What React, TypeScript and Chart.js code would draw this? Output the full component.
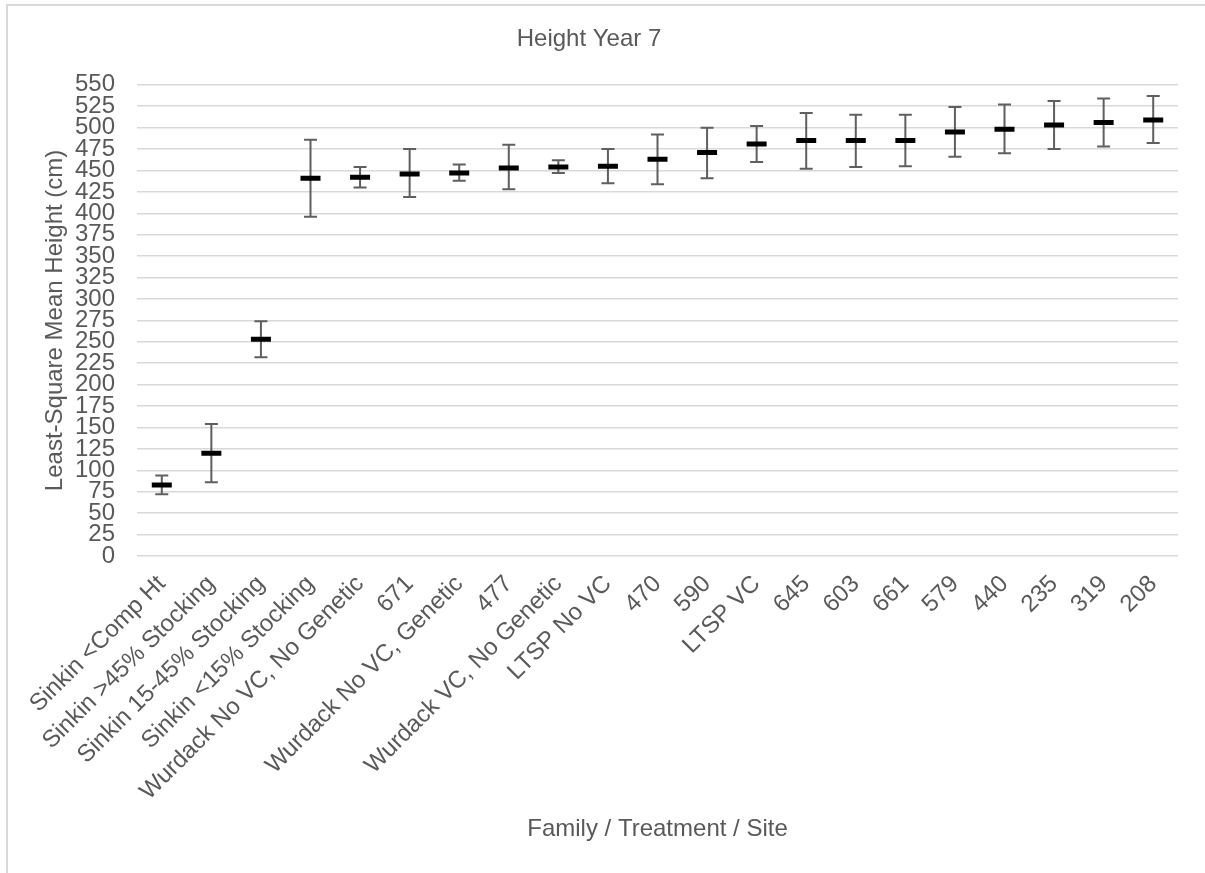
import React, { useEffect, useRef } from "react";
import { Chart, registerables } from "chart.js";

Chart.register(...registerables);

const categories = [
  "Sinkin <Comp Ht",
  "Sinkin >45% Stocking",
  "Sinkin 15-45% Stocking",
  "Sinkin <15% Stocking",
  "Wurdack No VC, No Genetic",
  "671",
  "Wurdack No VC, Genetic",
  "477",
  "Wurdack VC, No Genetic",
  "LTSP No VC",
  "470",
  "590",
  "LTSP VC",
  "645",
  "603",
  "661",
  "579",
  "440",
  "235",
  "319",
  "208",
];

const means = [83, 120, 253, 441, 442, 446, 447, 453, 454, 455, 463, 471, 481, 485, 485, 485, 495, 498, 503, 506, 509];
const upperValues = [94, 154, 274, 486, 454, 475, 457, 480, 462, 475, 492, 500, 502, 517, 515, 515, 524, 527, 531, 534, 537];
const lowerValues = [72, 86, 232, 396, 430, 419, 438, 428, 447, 435, 434, 441, 460, 452, 454, 455, 466, 470, 475, 478, 482];

const chartTitle = "Height Year 7";
const xTitle = "Family / Treatment / Site";
const yTitle = "Least-Square Mean Height (cm)";

const TEXT = "#595959";
const FONT = "'Liberation Sans', Arial, sans-serif";

const errorBarPlugin = {
  id: "errorBars",
  beforeDatasetsDraw(chart: any) {
    const { ctx, scales } = chart;
    const xs = scales.x;
    const ys = scales.y;
    ctx.save();
    ctx.strokeStyle = "#5f5f5f";
    ctx.lineWidth = 2;
    const cap = 6.5;
    for (let i = 0; i < means.length; i++) {
      const x = xs.getPixelForValue(i);
      const yHi = ys.getPixelForValue(upperValues[i]);
      const yLo = ys.getPixelForValue(lowerValues[i]);
      ctx.beginPath();
      ctx.moveTo(x, yHi);
      ctx.lineTo(x, yLo);
      ctx.moveTo(x - cap, yHi);
      ctx.lineTo(x + cap, yHi);
      ctx.moveTo(x - cap, yLo);
      ctx.lineTo(x + cap, yLo);
      ctx.stroke();
    }
    ctx.restore();
  },
};

export default function App() {
  const canvasRef = useRef<HTMLCanvasElement | null>(null);

  useEffect(() => {
    const canvas = canvasRef.current;
    if (!canvas) return;
    const chart = new Chart(canvas, {
      type: "line",
      data: {
        labels: categories,
        datasets: [
          {
            label: "Mean",
            data: means,
            showLine: false,
            pointStyle: "line",
            pointRadius: 10,
            pointBorderWidth: 5,
            pointBorderColor: "#000000",
            pointBackgroundColor: "#000000",
            borderColor: "#000000",
          },
        ],
      },
      options: {
        responsive: false,
        animation: false,
        devicePixelRatio: 1,
        layout: { padding: { left: 0, right: 27, top: 0, bottom: 0 } },
        plugins: {
          legend: { display: false },
          tooltip: { enabled: false },
          title: {
            display: true,
            text: chartTitle,
            color: TEXT,
            font: { family: FONT, size: 24, weight: "normal" },
            padding: { top: 25, bottom: 31 },
          },
        },
        scales: {
          x: {
            type: "category",
            offset: true,
            grid: { display: false, drawTicks: false },
            border: { display: false },
            ticks: {
              color: TEXT,
              font: { family: FONT, size: 24 },
              minRotation: 45,
              maxRotation: 45,
              autoSkip: false,
              padding: 14,
            },
            title: {
              display: true,
              text: xTitle,
              color: TEXT,
              font: { family: FONT, size: 24 },
              padding: { top: 0, bottom: 29 },
            },
            afterFit(scale: any) {
              scale.height = 317;
            },
          },
          y: {
            min: 0,
            max: 550,
            grid: { color: "#d9d9d9", lineWidth: 1.5, drawTicks: false },
            border: { display: false },
            ticks: {
              stepSize: 25,
              autoSkip: false,
              color: TEXT,
              font: { family: FONT, size: 24 },
              padding: 22,
            },
            title: {
              display: true,
              text: yTitle,
              color: TEXT,
              font: { family: FONT, size: 24 },
              padding: { top: 41, bottom: 0 },
            },
            afterFit(scale: any) {
              scale.width = 137;
            },
          },
        },
      },
      plugins: [errorBarPlugin],
    });
    return () => chart.destroy();
  }, []);

  return (
    <div style={{ position: "absolute", left: 0, top: 0, width: 1205, height: 873, background: "#ffffff", overflow: "hidden" }}>
      <div
        style={{
          position: "absolute",
          left: 6,
          top: 4,
          width: 1199,
          height: 869,
          borderLeft: "2px solid #d9d9d9",
          borderTop: "2px solid #d9d9d9",
          boxSizing: "border-box",
        }}
      />
      <canvas ref={canvasRef} width={1205} height={873} style={{ position: "absolute", left: 0, top: 0, width: 1205, height: 873 }} />
    </div>
  );
}
